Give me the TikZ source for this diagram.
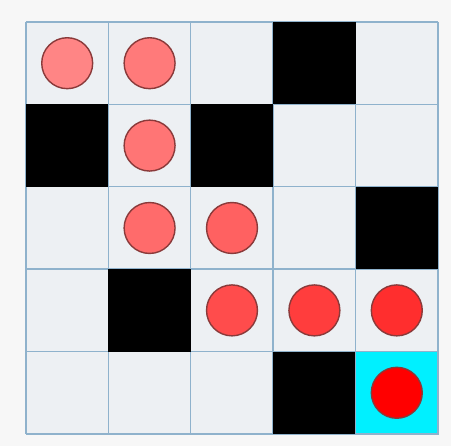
\documentclass[tikz,border=0pt]{standalone}
\usepackage{tikz}

\definecolor{pagebg}{HTML}{F7F7F7}
\definecolor{cellbg}{HTML}{EDF0F3}
\definecolor{gridline}{HTML}{8FB2CC}
\definecolor{goalcell}{HTML}{00F0FF}
\definecolor{rim}{HTML}{8A3A3A}

\tikzset{
  wall/.style={fill=black},
  token/.style={circle, draw=rim, line width=0.8pt, minimum size=1.02cm, inner sep=0pt}
}

\begin{document}
\begin{tikzpicture}[x=1.65cm, y=1.65cm]
  % Margins
  \fill[pagebg] (-0.3155, 0.267) rectangle (5.158, -5.146);
  \useasboundingbox (-0.3155, 0.267) rectangle (5.158, -5.146);

  % Cells
  \fill[cellbg] (0,0) rectangle (5,-5);

  % Grid
  \foreach \i in {0,...,5} {
    \draw[gridline, line width=0.8pt] (\i,0) -- (\i,-5);
    \draw[gridline, line width=0.8pt] (0,-\i) -- (5,-\i);
  }

  % Walls
  \fill[wall] (3,0) rectangle (4,-1);
  \fill[wall] (0,-1) rectangle (1,-2);
  \fill[wall] (2,-1) rectangle (3,-2);
  \fill[wall] (4,-2) rectangle (5,-3);
  \fill[wall] (1,-3) rectangle (2,-4);
  \fill[wall] (3,-4) rectangle (4,-5);

  % Goal
  \filldraw[fill=goalcell, draw=gridline, line width=0.8pt] (4,-4) rectangle (5,-5);

  % Path
  \node[token, fill=red!48] (p1) at (0.5,-0.5) {};
  \node[token, fill=red!52] (p2) at (1.5,-0.5) {};
  \node[token, fill=red!54] (p3) at (1.5,-1.5) {};
  \node[token, fill=red!58] (p4) at (1.5,-2.5) {};
  \node[token, fill=red!62] (p5) at (2.5,-2.5) {};
  \node[token, fill=red!70] (p6) at (2.5,-3.5) {};
  \node[token, fill=red!76] (p7) at (3.5,-3.5) {};
  \node[token, fill=red!82] (p8) at (4.5,-3.5) {};
  \node[token, fill=red!100] (p9) at (4.5,-4.5) {};
\end{tikzpicture}
\end{document}
